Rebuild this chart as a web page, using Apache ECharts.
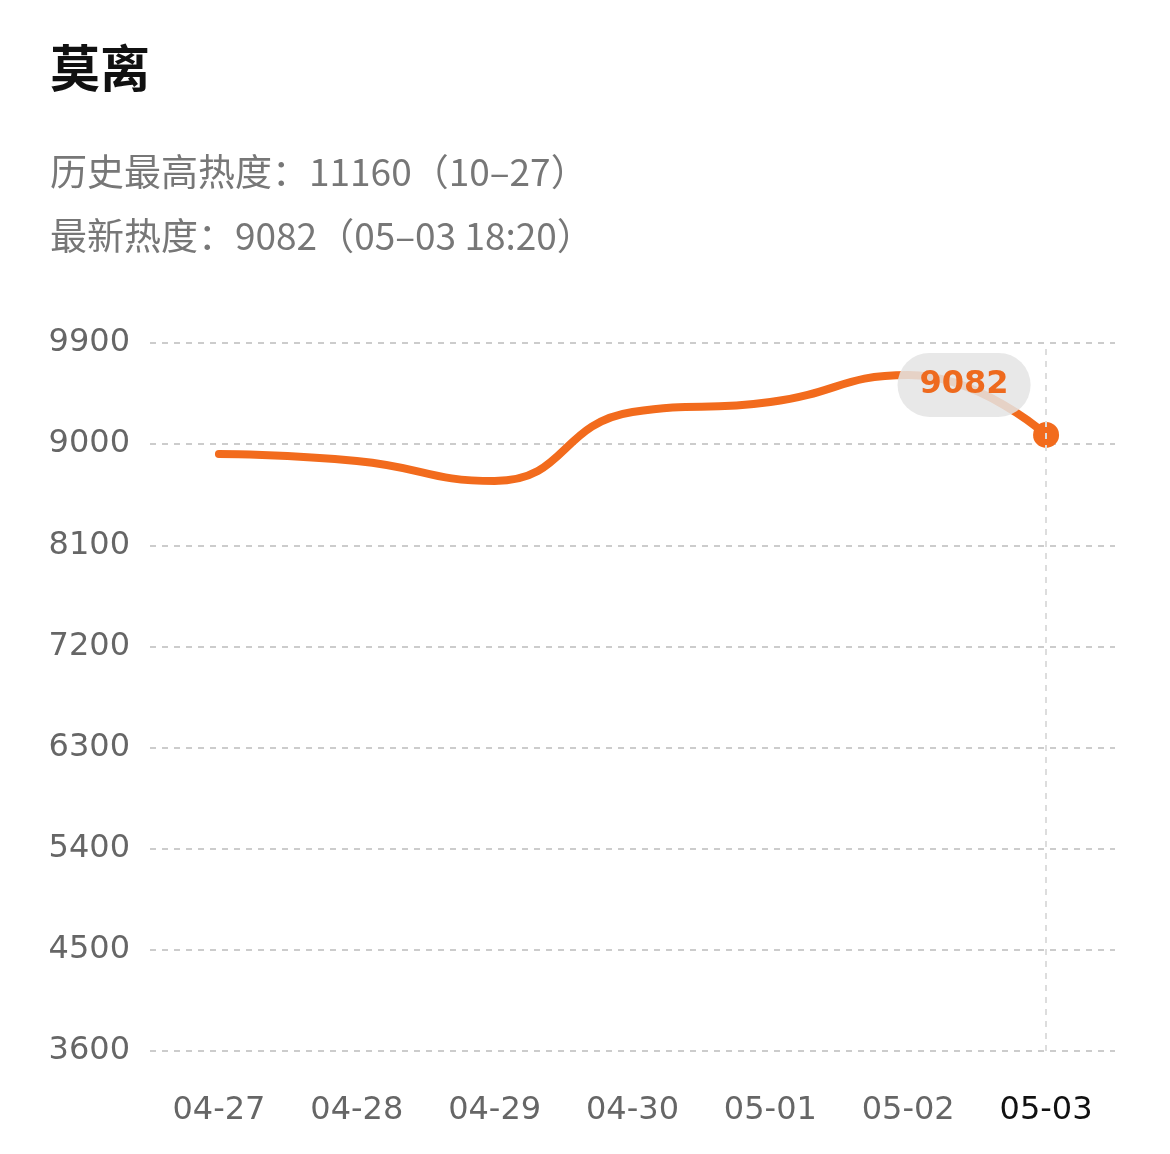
<!DOCTYPE html>
<html><head><meta charset="utf-8">
<script src="https://cdn.jsdelivr.net/npm/echarts@6/dist/echarts.min.js"></script>
<style>html,body{margin:0;padding:0;background:#fff}#c{width:1170px;height:1154px}</style>
</head><body><div id="c"></div>
<script>
const categories = ['04-27','04-28','04-29','04-30','05-01','05-02','05-03'];
const values = [8912, 8850, 8672, 9286, 9375, 9615, 9082];
const yTicks = [3600, 4500, 5400, 6300, 7200, 8100, 9000, 9900];
const title = '莫离';
const line1 = '历史最高热度：11160（10–27）';
const line2 = '最新热度：9082（05–03 18:20）';

const chart = echarts.init(document.getElementById('c'));
const last = values.length - 1;
const seriesData = values.map((v, i) => i === last ? {
  value: v, symbol: 'circle', symbolSize: 26,
  label: {show: true, formatter: '{c}', position: 'inside', offset: [-82, -50],
    color: '#EE6A1E', fontSize: 32, fontWeight: 'bold', fontFamily: 'DejaVu Sans',
    backgroundColor: 'rgba(228,228,228,0.85)', borderRadius: 36, padding: [18, 22, 14, 22]}
} : {value: v, symbol: 'none'});

chart.setOption({
  animation: false,
  title: [
    {text: title, left: 45, top: 38, textStyle: {fontSize: 50, fontWeight: 'bold', color: '#111', fontFamily: 'Noto Sans CJK SC'}},
    {text: line1, left: 45, top: 148, textStyle: {fontSize: 37, fontWeight: 'normal', color: '#777', fontFamily: 'Noto Sans CJK SC'}},
    {text: line2, left: 45, top: 212, textStyle: {fontSize: 37, fontWeight: 'normal', color: '#777', fontFamily: 'Noto Sans CJK SC'}}
  ],
  grid: {left: 150, right: 55, top: 343, bottom: 103},
  xAxis: {type: 'category', data: categories, boundaryGap: true,
    axisLine: {show: false}, axisTick: {show: false},
    axisLabel: {fontSize: 32, margin: 44, fontFamily: 'DejaVu Sans',
      color: (v, i) => i === last ? '#111' : '#666'}},
  yAxis: {type: 'value', min: yTicks[0], max: yTicks[yTicks.length - 1], interval: 900,
    axisLabel: {fontSize: 32, color: '#666', margin: 20, align: 'right', fontFamily: 'DejaVu Sans',
      formatter: v => String(v)},
    splitLine: {lineStyle: {type: [6, 6], color: '#ccc', width: 2}}},
  series: [{
    type: 'line', data: seriesData, smooth: 0.5,
    lineStyle: {color: '#F26B1D', width: 8, cap: 'round'},
    itemStyle: {color: '#F26B1D'},
    markLine: {silent: true, symbol: 'none', label: {show: false},
      lineStyle: {type: [6, 6], color: '#ddd', width: 2},
      data: [{xAxis: '05-03'}]}
  }]
});
</script></body></html>
